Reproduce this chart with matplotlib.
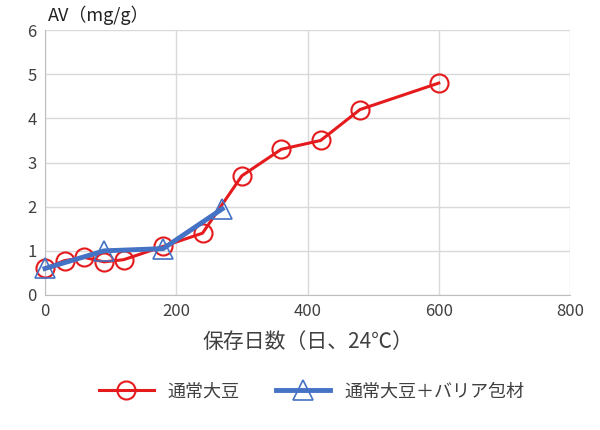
import matplotlib
matplotlib.use("Agg")
import matplotlib.pyplot as plt

plt.rcParams['font.family'] = ['Noto Sans CJK JP', 'DejaVu Sans']

red_x = [0, 30, 60, 90, 120, 180, 240, 300, 360, 420, 480, 600]
red_y = [0.6, 0.78, 0.85, 0.75, 0.8, 1.1, 1.4, 2.7, 3.3, 3.5, 4.2, 4.8]
blue_x = [0, 90, 180, 270]
blue_y = [0.6, 1.0, 1.05, 1.95]
red_label = "通常大豆"
blue_label = "通常大豆＋バリア包材"

fig = plt.figure(figsize=(6, 4.3), dpi=100)
ax = fig.add_axes([0.075, 0.314, 0.875, 0.616])
ax.plot(red_x, red_y, color='#e41a1c', lw=2.2, marker='o', ms=13,
        mfc='none', mec='#e41a1c', mew=1.5, label=red_label, zorder=3, clip_on=False)
ax.plot(blue_x, blue_y, color='#4472c4', lw=3.5, marker='^', ms=14,
        mfc='none', mec='#4472c4', mew=1.2, label=blue_label, zorder=4, clip_on=False)
ax.set_xlim(0, 800)
ax.set_ylim(0, 6)
ax.set_xticks([0, 200, 400, 600, 800])
ax.set_yticks(range(7))
ax.grid(True, color='#d9d9d9', lw=1)
ax.set_axisbelow(True)
for s in ['top', 'right']:
    ax.spines[s].set_visible(False)
ax.spines['left'].set_color('#bfbfbf')
ax.spines['bottom'].set_color('#bfbfbf')
ax.tick_params(length=0, labelsize=12, colors='#404040', pad=6)
ax.set_xlabel("保存日数（日、24℃）", fontsize=15, color='#404040', labelpad=8)
fig.text(0.08, 0.965, "AV（mg/g）", fontsize=13, color='#222222', va='center')
fig.legend(loc='center', bbox_to_anchor=(0.52, 0.09), ncol=2, frameon=False,
           fontsize=13, handlelength=3, columnspacing=2, labelcolor='#404040')
fig.savefig("out.png")
